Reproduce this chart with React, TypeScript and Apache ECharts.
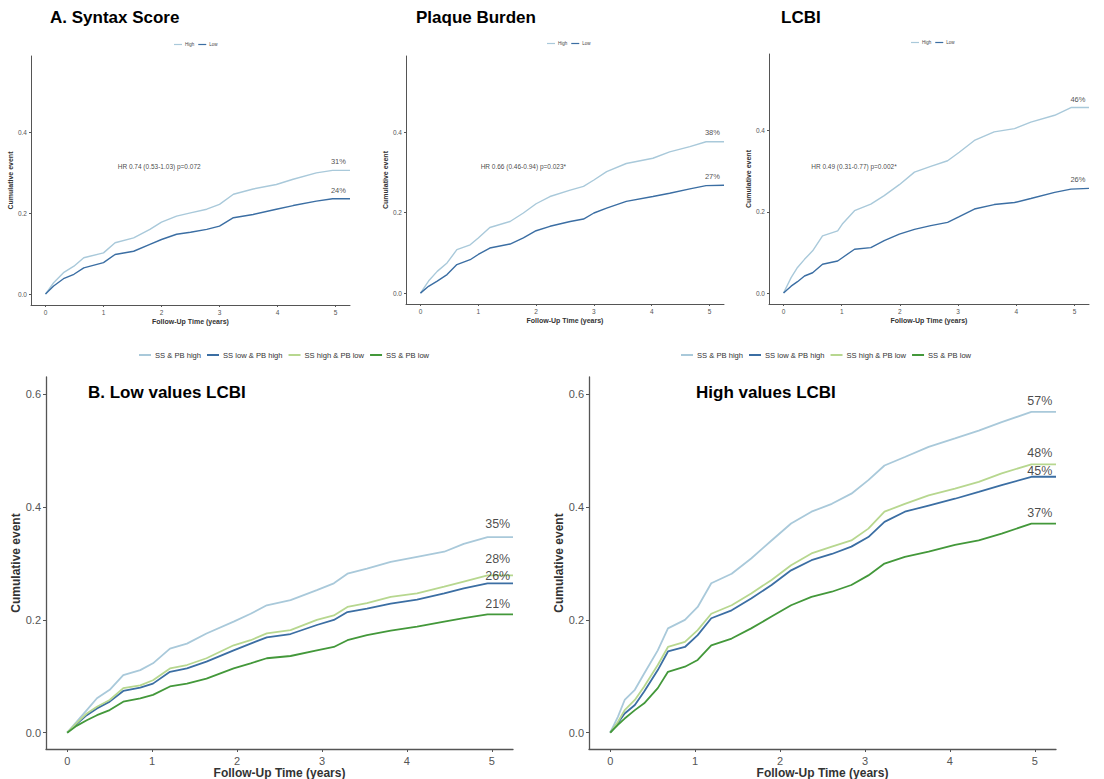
import React, { useEffect, useRef } from "react";
import * as echarts from "echarts";

// ---------- DATA ----------
const X_TICKS = [0, 1, 2, 3, 4, 5];
const Y_TICKS_TOP = [0, 0.2, 0.4];
const Y_TICKS_BOTTOM = [0, 0.2, 0.4, 0.6];

const TOP_LEGEND = ["High", "Low"];
const BOTTOM_LEGEND = ["SS & PB high", "SS low & PB high", "SS high & PB low", "SS & PB low"];

// Panel A. Syntax Score
const timesSS = [0, 0.14, 0.31, 0.49, 0.66, 1.0, 1.2, 1.52, 1.8, 2.0, 2.26, 2.5, 2.78, 3.0, 3.24, 3.58, 3.98, 4.27, 4.67, 4.95, 5.25];
const ssHigh = [0, 0.028, 0.053, 0.069, 0.09, 0.102, 0.127, 0.139, 0.16, 0.178, 0.193, 0.201, 0.21, 0.222, 0.247, 0.26, 0.271, 0.284, 0.3, 0.306, 0.306];
const ssLow = [0, 0.02, 0.038, 0.049, 0.065, 0.078, 0.098, 0.106, 0.123, 0.135, 0.148, 0.153, 0.16, 0.168, 0.189, 0.197, 0.21, 0.219, 0.23, 0.236, 0.236];

// Panel Plaque Burden
const timesPB = [0, 0.14, 0.29, 0.46, 0.63, 0.86, 1.0, 1.2, 1.55, 1.78, 2.0, 2.24, 2.59, 2.82, 3.0, 3.22, 3.56, 4.02, 4.31, 4.66, 4.94, 5.25];
const pbHigh = [0, 0.03, 0.054, 0.075, 0.108, 0.12, 0.137, 0.163, 0.178, 0.199, 0.222, 0.24, 0.256, 0.265, 0.281, 0.302, 0.322, 0.335, 0.351, 0.364, 0.376, 0.376];
const pbLow = [0, 0.017, 0.03, 0.046, 0.071, 0.083, 0.096, 0.112, 0.122, 0.137, 0.155, 0.166, 0.178, 0.184, 0.199, 0.211, 0.228, 0.24, 0.248, 0.259, 0.267, 0.268];

// Panel LCBI
const timesLC = [0, 0.13, 0.24, 0.36, 0.5, 0.67, 0.93, 1.01, 1.22, 1.5, 1.73, 1.99, 2.25, 2.53, 2.82, 3.02, 3.28, 3.62, 3.97, 4.25, 4.66, 4.94, 5.25];
const lcHigh = [0, 0.038, 0.063, 0.083, 0.104, 0.141, 0.153, 0.17, 0.203, 0.219, 0.24, 0.267, 0.298, 0.312, 0.326, 0.347, 0.376, 0.397, 0.405, 0.421, 0.438, 0.457, 0.457];
const lcLow = [0, 0.017, 0.028, 0.042, 0.05, 0.071, 0.079, 0.087, 0.108, 0.112, 0.129, 0.145, 0.157, 0.166, 0.174, 0.188, 0.207, 0.218, 0.223, 0.233, 0.248, 0.256, 0.258];

// Panel B. Low values LCBI
const timesLow = [0, 0.11, 0.23, 0.35, 0.5, 0.66, 0.86, 1.01, 1.21, 1.41, 1.64, 1.96, 2.16, 2.35, 2.63, 2.94, 3.14, 3.3, 3.53, 3.81, 4.12, 4.44, 4.67, 4.95, 5.25];
const lowSsPbHigh = [0, 0.019, 0.04, 0.061, 0.076, 0.102, 0.111, 0.123, 0.149, 0.158, 0.176, 0.197, 0.211, 0.226, 0.235, 0.253, 0.265, 0.282, 0.291, 0.303, 0.312, 0.321, 0.335, 0.347, 0.347];
const lowSsLowPbHigh = [0, 0.015, 0.031, 0.043, 0.055, 0.074, 0.08, 0.087, 0.108, 0.114, 0.126, 0.146, 0.158, 0.169, 0.175, 0.191, 0.2, 0.214, 0.22, 0.229, 0.236, 0.247, 0.256, 0.265, 0.265];
const lowSsHighPbLow = [0, 0.017, 0.034, 0.046, 0.058, 0.079, 0.084, 0.093, 0.114, 0.12, 0.132, 0.155, 0.164, 0.176, 0.182, 0.2, 0.208, 0.223, 0.23, 0.241, 0.247, 0.259, 0.268, 0.279, 0.279];
const lowSsPbLow = [0, 0.012, 0.022, 0.031, 0.04, 0.055, 0.061, 0.067, 0.082, 0.087, 0.096, 0.114, 0.123, 0.132, 0.136, 0.146, 0.152, 0.164, 0.173, 0.181, 0.188, 0.197, 0.203, 0.21, 0.21];

// Panel High values LCBI
const timesHigh = [0, 0.09, 0.17, 0.29, 0.4, 0.56, 0.68, 0.88, 1.03, 1.19, 1.43, 1.66, 1.9, 2.13, 2.37, 2.61, 2.84, 3.04, 3.23, 3.47, 3.75, 4.06, 4.34, 4.61, 4.96, 5.25];
const highSsPbHigh = [0, 0.028, 0.058, 0.076, 0.105, 0.146, 0.185, 0.2, 0.223, 0.265, 0.282, 0.309, 0.341, 0.371, 0.392, 0.406, 0.424, 0.448, 0.474, 0.489, 0.507, 0.522, 0.536, 0.551, 0.569, 0.569];
const highSsLowPbHigh = [0, 0.017, 0.034, 0.049, 0.073, 0.111, 0.144, 0.152, 0.173, 0.203, 0.217, 0.238, 0.262, 0.288, 0.306, 0.317, 0.33, 0.347, 0.374, 0.392, 0.403, 0.415, 0.427, 0.439, 0.454, 0.454];
const highSsHighPbLow = [0, 0.019, 0.04, 0.058, 0.082, 0.12, 0.152, 0.161, 0.182, 0.211, 0.226, 0.247, 0.271, 0.297, 0.318, 0.33, 0.341, 0.362, 0.392, 0.406, 0.421, 0.433, 0.445, 0.46, 0.476, 0.476];
const highSsPbLow = [0, 0.014, 0.025, 0.04, 0.052, 0.079, 0.108, 0.117, 0.129, 0.155, 0.167, 0.185, 0.206, 0.226, 0.241, 0.25, 0.262, 0.279, 0.3, 0.312, 0.321, 0.333, 0.341, 0.353, 0.371, 0.371];

// End-of-curve percentage labels: [text, x, y] in data units
const labelsSS = [["31%", 5.05, 0.328], ["24%", 5.05, 0.257]];
const labelsPB = [["38%", 5.05, 0.398], ["27%", 5.05, 0.289]];
const labelsLC = [["46%", 5.06, 0.478], ["26%", 5.06, 0.28]];
const labelsLow = [["35%", 5.07, 0.37], ["28%", 5.07, 0.308], ["26%", 5.07, 0.278], ["21%", 5.07, 0.228]];
const labelsHigh = [["57%", 5.06, 0.588], ["48%", 5.06, 0.497], ["45%", 5.06, 0.464], ["37%", 5.06, 0.39]];

// Hazard ratio annotations: [text, x, y]
const hrSS = ["HR 0.74 (0.53-1.03) p=0.072", 1.96, 0.316];
const hrPB = ["HR 0.66 (0.46-0.94) p=0.023*", 1.78, 0.314];
const hrLC = ["HR 0.49 (0.31-0.77) p=0.002*", 1.21, 0.312];

const panelTitles = ["A. Syntax Score", "Plaque Burden", "LCBI", "B. Low values LCBI", "High values LCBI"];

// ---------- STYLE ----------
const FONT = "'Liberation Sans', Arial, sans-serif";
const C_LIGHT_BLUE = "#a9c9da";
const C_DARK_BLUE = "#3b6ea3";
const C_LIGHT_GREEN = "#b7d78f";
const C_GREEN = "#43983a";
const AXIS_COLOR = "#555555";

const zip = (t: number[], v: number[]) => t.map((x, i) => [x, v[i]]);

export default function App() {
  const ref = useRef<HTMLDivElement>(null);

  useEffect(() => {
    if (!ref.current) return;
    const chart = echarts.init(ref.current, null, { renderer: "svg" });

    const gridBoxes = [
      { left: 31, top: 56, width: 319, height: 249 },
      { left: 406, top: 56, width: 318, height: 248 },
      { left: 769, top: 54, width: 320, height: 250 },
      { left: 46, top: 377, width: 467, height: 372 },
      { left: 589, top: 377, width: 467, height: 372 },
    ];
    const grids = gridBoxes.map((g) => ({ ...g, containLabel: false, outerBoundsMode: "none" }));

    const small = [true, true, true, false, false];

    const xAxes = grids.map((_, i) => ({
      type: "value",
      gridIndex: i,
      min: -0.25,
      max: 5.25,
      name: "Follow-Up Time (years)",
      nameLocation: "middle",
      nameGap: small[i] ? 13 : 17,
      nameTextStyle: {
        fontFamily: FONT,
        fontWeight: "bold",
        fontSize: small[i] ? 7 : 12,
        color: "#333",
      },
      axisLine: { show: true, onZero: false, lineStyle: { color: AXIS_COLOR, width: small[i] ? 1 : 1.3 } },
      axisTick: { show: true, customValues: X_TICKS, length: small[i] ? 2 : 3, lineStyle: { color: AXIS_COLOR } },
      axisLabel: {
        customValues: X_TICKS,
        fontFamily: FONT,
        fontSize: small[i] ? 6.5 : 11,
        color: "#555",
        margin: small[i] ? 4 : 6,
        formatter: (v: number) => String(Math.round(v)),
      },
      splitLine: { show: false },
    }));

    const yAxes = grids.map((_, i) => ({
      type: "value",
      gridIndex: i,
      min: small[i] ? -0.027 : -0.029,
      max: small[i] ? 0.589 : 0.631,
      name: "Cumulative event",
      nameLocation: "middle",
      nameGap: small[i] ? 14 : 19,
      nameTextStyle: {
        fontFamily: FONT,
        fontWeight: "bold",
        fontSize: small[i] ? 7 : 12,
        color: "#333",
      },
      axisLine: { show: true, onZero: false, lineStyle: { color: AXIS_COLOR, width: small[i] ? 1 : 1.3 } },
      axisTick: { show: true, customValues: small[i] ? Y_TICKS_TOP : Y_TICKS_BOTTOM, length: small[i] ? 2 : 3, lineStyle: { color: AXIS_COLOR } },
      axisLabel: {
        customValues: small[i] ? Y_TICKS_TOP : Y_TICKS_BOTTOM,
        fontFamily: FONT,
        fontSize: small[i] ? 6.5 : 11,
        color: "#555",
        margin: small[i] ? 4 : 5,
        formatter: (v: number) => v.toFixed(1),
      },
      splitLine: { show: false },
    }));

    const lineSeries = (name: string, idx: number, t: number[], v: number[], color: string, width: number) => ({
      type: "line",
      name,
      xAxisIndex: idx,
      yAxisIndex: idx,
      data: zip(t, v),
      showSymbol: false,
      symbol: "none",
      lineStyle: { color, width },
      itemStyle: { color },
      silent: true,
      z: 2,
    });

    const textSeries = (idx: number, items: any[], fontSize: number, color = "#1a1a1a") => ({
      type: "scatter",
      xAxisIndex: idx,
      yAxisIndex: idx,
      symbolSize: 1,
      itemStyle: { color: "rgba(0,0,0,0)" },
      silent: true,
      z: 5,
      data: items.map((it) => ({ name: it[0], value: [it[1], it[2]] })),
      label: {
        show: true,
        position: "inside",
        formatter: "{b}",
        fontFamily: FONT,
        fontSize,
        color,
      },
    });

    const series: any[] = [
      lineSeries("High", 0, timesSS, ssHigh, C_LIGHT_BLUE, 1.4),
      lineSeries("Low", 0, timesSS, ssLow, C_DARK_BLUE, 1.4),
      lineSeries("High", 1, timesPB, pbHigh, C_LIGHT_BLUE, 1.4),
      lineSeries("Low", 1, timesPB, pbLow, C_DARK_BLUE, 1.4),
      lineSeries("High", 2, timesLC, lcHigh, C_LIGHT_BLUE, 1.4),
      lineSeries("Low", 2, timesLC, lcLow, C_DARK_BLUE, 1.4),
      lineSeries(BOTTOM_LEGEND[0], 3, timesLow, lowSsPbHigh, C_LIGHT_BLUE, 1.8),
      lineSeries(BOTTOM_LEGEND[1], 3, timesLow, lowSsLowPbHigh, C_DARK_BLUE, 1.8),
      lineSeries(BOTTOM_LEGEND[2], 3, timesLow, lowSsHighPbLow, C_LIGHT_GREEN, 1.8),
      lineSeries(BOTTOM_LEGEND[3], 3, timesLow, lowSsPbLow, C_GREEN, 1.8),
      lineSeries(BOTTOM_LEGEND[0], 4, timesHigh, highSsPbHigh, C_LIGHT_BLUE, 1.8),
      lineSeries(BOTTOM_LEGEND[1], 4, timesHigh, highSsLowPbHigh, C_DARK_BLUE, 1.8),
      lineSeries(BOTTOM_LEGEND[2], 4, timesHigh, highSsHighPbLow, C_LIGHT_GREEN, 1.8),
      lineSeries(BOTTOM_LEGEND[3], 4, timesHigh, highSsPbLow, C_GREEN, 1.8),
      textSeries(0, labelsSS, 7.5),
      textSeries(1, labelsPB, 7.5),
      textSeries(2, labelsLC, 7.5),
      textSeries(3, labelsLow, 12.5),
      textSeries(4, labelsHigh, 12.5),
      textSeries(0, [hrSS], 6.5, "#111"),
      textSeries(1, [hrPB], 6.5, "#111"),
      textSeries(2, [hrLC], 6.5, "#111"),
    ];

    const legendCommon = {
      orient: "horizontal",
      icon: "rect",
      selectedMode: false,
    };
    const topLegendStyle = {
      itemWidth: 8,
      itemHeight: 1.2,
      itemGap: 4,
      textStyle: { fontFamily: FONT, fontSize: 4.5, color: "#444", padding: [0, 0, 0, -2] },
    };
    const bottomLegendStyle = {
      itemWidth: 12,
      itemHeight: 2,
      itemGap: 6,
      textStyle: { fontFamily: FONT, fontSize: 7.6, color: "#333", padding: [0, 0, 0, -1] },
    };

    const legend = [
      { ...legendCommon, ...topLegendStyle, data: TOP_LEGEND, left: 169, top: 37 },
      { ...legendCommon, ...topLegendStyle, data: TOP_LEGEND, left: 542, top: 36 },
      { ...legendCommon, ...topLegendStyle, data: TOP_LEGEND, left: 906, top: 35 },
      { ...legendCommon, ...bottomLegendStyle, data: BOTTOM_LEGEND, left: 134, top: 346 },
      { ...legendCommon, ...bottomLegendStyle, data: BOTTOM_LEGEND, left: 676, top: 346 },
    ];

    const titlePos = [
      [50, 9],
      [416, 9],
      [781, 9],
      [88, 384],
      [696, 384],
    ];
    const title = panelTitles.map((t, i) => ({
      text: t,
      left: titlePos[i][0],
      top: titlePos[i][1],
      padding: 0,
      textStyle: { fontFamily: FONT, fontWeight: "bold", fontSize: 17, color: "#000" },
    }));

    chart.setOption({
      animation: false,
      backgroundColor: "#ffffff",
      title,
      legend,
      grid: grids,
      xAxis: xAxes,
      yAxis: yAxes,
      series,
    });

    return () => {
      chart.dispose();
    };
  }, []);

  return (
    <div
      ref={ref}
      style={{ position: "fixed", left: 0, top: 0, width: 1104, height: 779, background: "#fff" }}
    />
  );
}
